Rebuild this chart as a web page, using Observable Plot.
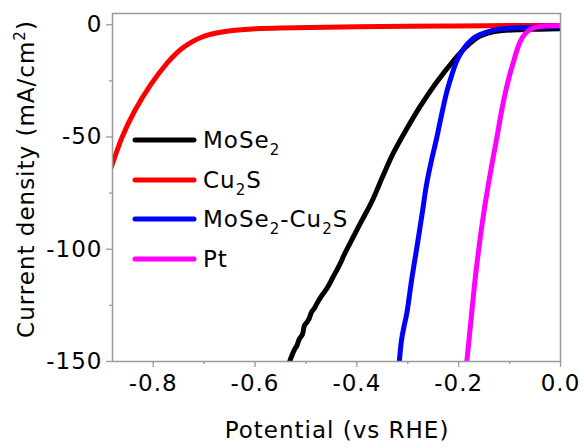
<!DOCTYPE html>
<html>
<head>
<meta charset="utf-8">
<script src="https://cdn.jsdelivr.net/npm/d3@7"></script>
<script src="https://cdn.jsdelivr.net/npm/@observablehq/plot@0.6"></script>
<style>
  body { margin: 0; background: white; }
  #chart { width: 584px; height: 448px; }
</style>
</head>
<body>
<div id="chart"></div>
<script>
// ---- Data ----
const seriesNames = ["MoSe2", "Cu2S", "MoSe2-Cu2S", "Pt"];
const seriesColors = ["#000000", "#ff0000", "#0000ff", "#ff00ff"];

const potMoSe2 = [-0.532,-0.527,-0.522,-0.518,-0.513,-0.507,-0.503,-0.498,-0.494,-0.489,-0.484,-0.478,-0.470,-0.459,-0.447,-0.433,-0.424,-0.414,-0.394,-0.370,-0.351,-0.328,-0.296,-0.276,-0.263,-0.243,-0.210,-0.184,-0.158,-0.135,-0.113,-0.080,-0.040,0];
const curMoSe2 = [-150,-147,-144.5,-143,-140,-138,-134,-132.5,-131,-128,-126.5,-124,-121,-117.5,-112.5,-106.5,-102,-97.6,-88.8,-78.5,-68.5,-57,-44,-36.5,-32,-25.5,-16,-9.5,-5,-3.3,-2.6,-2.2,-2.0,-1.8];

const potCu2S = [-0.885,-0.88,-0.863,-0.838,-0.804,-0.771,-0.755,-0.740,-0.723,-0.706,-0.690,-0.673,-0.641,-0.600,-0.550,-0.5,-0.4,-0.3,-0.2,-0.1,0];
const curCu2S = [-65,-62,-50.5,-38.5,-26,-16.4,-12.7,-9.9,-7.4,-5.6,-4.4,-3.5,-2.4,-1.7,-1.4,-1.2,-0.9,-0.7,-0.5,-0.4,-0.3];

const potHybrid = [-0.3166,-0.312,-0.307,-0.302,-0.292,-0.282,-0.271,-0.263,-0.253,-0.243,-0.233,-0.223,-0.213,-0.204,-0.194,-0.184,-0.171,-0.158,-0.135,-0.113,-0.080,-0.040,0];
const curHybrid = [-150,-140,-134,-128.7,-113,-99,-83,-71,-60,-50.3,-39.5,-29.6,-22,-16.3,-12,-8.9,-6,-4.4,-2.6,-1.8,-1.3,-1.0,-0.75];

const potPt = [-0.184,-0.176,-0.168,-0.160,-0.151,-0.1416,-0.133,-0.125,-0.117,-0.109,-0.100,-0.092,-0.085,-0.079,-0.070,-0.060,-0.050,-0.040,-0.020,0];
const curPt = [-150,-132,-114,-99,-84.3,-71,-60,-50.3,-40,-31,-22.5,-16.3,-11,-7.4,-4.2,-2.2,-1.2,-0.75,-0.45,-0.3];

const xMajorTicks = [-0.8, -0.6, -0.4, -0.2, 0.0];
const xMinorTicks = [-0.7, -0.5, -0.3, -0.1];
const yMajorTicks = [0, -50, -100, -150];
const yMinorTicks = [-25, -75, -125];

// ---- Build tables ----
const allPots = [potMoSe2, potCu2S, potHybrid, potPt];
const allCurs = [curMoSe2, curCu2S, curHybrid, curPt];
const toRows = i => allPots[i].map((p, j) => ({series: seriesNames[i], x: p, y: allCurs[i][j]}));
const redRows = toRows(1);
const otherRows = [0, 2, 3].flatMap(toRows); // black, blue, magenta (drawn in this order)

const W = 584, H = 448;
const mL = 112, mR = 24, mT = 13, mB = 87;
const FONT = "DejaVu Sans, Verdana, sans-serif";

const chart = Plot.plot({
  width: W, height: H,
  marginLeft: mL, marginRight: mR, marginTop: mT, marginBottom: mB,
  style: {fontFamily: FONT, fontSize: "23px", background: "white", color: "black", letterSpacing: "1px"},
  x: {domain: [-0.88, 0], label: null},
  y: {domain: [-150, 5], label: null},
  color: {domain: seriesNames, range: seriesColors},
  marks: [
    Plot.axisX(xMinorTicks, {tickSize: 3, text: null, stroke: "#999", strokeWidth: 1.3, label: null}),
    Plot.axisX(xMajorTicks, {tickSize: 6, tickPadding: 7, stroke: "#999", strokeWidth: 1.3, fill: "black",
      tickFormat: d => d.toFixed(1), label: null}),
    Plot.axisY(yMinorTicks, {tickSize: 3, text: null, stroke: "#999", strokeWidth: 1.3, label: null}),
    Plot.axisY(yMajorTicks, {tickSize: 6, tickPadding: 4, stroke: "#999", strokeWidth: 1.3, fill: "black",
      tickFormat: d => String(d), label: null}),
    Plot.line(redRows, {x: "x", y: "y", stroke: "series", strokeWidth: 5,
      curve: "basis", clip: true, strokeLinejoin: "round"}),
    Plot.line(otherRows, {x: "x", y: "y", z: "series", stroke: "series", strokeWidth: 5,
      curve: "catmull-rom", clip: true, strokeLinejoin: "round"}),
    Plot.frame({stroke: "#999", strokeWidth: 1.5})
  ]
});

document.getElementById("chart").appendChild(chart);

// ---- Labels and legend ----
const svg = d3.select(chart);
const ns = svg.append("g").attr("font-family", FONT).attr("font-size", 23)
  .attr("fill", "black").attr("text-anchor", "start").style("letter-spacing", "1px");

// x label
ns.append("text").attr("x", 337).attr("y", 438).attr("text-anchor", "middle")
  .text("Potential (vs RHE)");

// y label with superscript
const yl = ns.append("text").attr("text-anchor", "middle")
  .attr("transform", `translate(34,179) rotate(-90)`);
yl.append("tspan").text("Current density (mA/cm");
yl.append("tspan").attr("font-size", 15).attr("dy", -9).text("2");
yl.append("tspan").attr("dy", 9).text(")");

// legend
const legendParts = [
  [["MoSe", 0], ["2", 1]],
  [["Cu", 0], ["2", 1], ["S", 0]],
  [["MoSe", 0], ["2", 1], ["-Cu", 0], ["2", 1], ["S", 0]],
  [["Pt", 0]]
];
const legendY = [140, 180, 219, 259];
legendParts.forEach((parts, i) => {
  ns.append("line").attr("x1", 135).attr("x2", 194).attr("y1", legendY[i]).attr("y2", legendY[i])
    .attr("stroke", seriesColors[i]).attr("stroke-width", 5).attr("stroke-linecap", "round");
  const t = ns.append("text").attr("x", 203).attr("y", legendY[i] + 8);
  let sub = false;
  parts.forEach(([s, isSub]) => {
    const ts = t.append("tspan").text(s);
    if (isSub && !sub) { ts.attr("font-size", 15).attr("dy", 7); sub = true; }
    else if (!isSub && sub) { ts.attr("dy", -7); sub = false; }
  });
});
</script>
</body>
</html>
